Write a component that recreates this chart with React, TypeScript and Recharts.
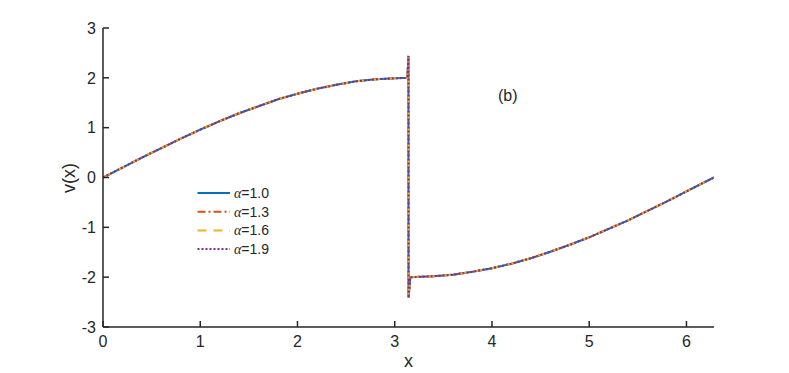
import { LineChart, Line, XAxis, YAxis, Label } from "recharts";

// x grid (the jump sits at x = pi)
const xs = [
  0, 0.2, 0.4, 0.6, 0.8, 1.0, 1.2, 1.4, 1.6, 1.8, 2.0, 2.2, 2.4, 2.6, 2.8, 3.0,
  3.13, 3.141, 3.142, 3.16, 3.4, 3.6, 3.8, 4.0, 4.2, 4.4, 4.6, 4.8, 5.0, 5.2,
  5.4, 5.6, 5.8, 6.0, 6.2, 6.2832,
];

// v(x), one list per alpha
const v10 = [
  0, 0.2, 0.4, 0.59, 0.78, 0.96, 1.13, 1.29, 1.43, 1.57, 1.68, 1.78, 1.86,
  1.93, 1.97, 1.99, 2.0, 2.44, -2.41, -2.0, -1.98, -1.95, -1.89, -1.82, -1.73,
  -1.62, -1.49, -1.35, -1.2, -1.03, -0.86, -0.67, -0.48, -0.28, -0.08, 0,
];
const v13 = [
  0, 0.2, 0.4, 0.59, 0.78, 0.96, 1.13, 1.29, 1.43, 1.57, 1.68, 1.78, 1.86,
  1.93, 1.97, 1.99, 2.0, 2.44, -2.41, -2.0, -1.98, -1.95, -1.89, -1.82, -1.73,
  -1.62, -1.49, -1.35, -1.2, -1.03, -0.86, -0.67, -0.48, -0.28, -0.08, 0,
];
const v16 = [
  0, 0.2, 0.4, 0.59, 0.78, 0.96, 1.13, 1.29, 1.43, 1.57, 1.68, 1.78, 1.86,
  1.93, 1.97, 1.99, 2.0, 2.44, -2.41, -2.0, -1.98, -1.95, -1.89, -1.82, -1.73,
  -1.62, -1.49, -1.35, -1.2, -1.03, -0.86, -0.67, -0.48, -0.28, -0.08, 0,
];
const v19 = [
  0, 0.2, 0.4, 0.59, 0.78, 0.96, 1.13, 1.29, 1.43, 1.57, 1.68, 1.78, 1.86,
  1.93, 1.97, 1.99, 2.0, 2.44, -2.41, -2.0, -1.98, -1.95, -1.89, -1.82, -1.73,
  -1.62, -1.49, -1.35, -1.2, -1.03, -0.86, -0.67, -0.48, -0.28, -0.08, 0,
];

const alphas = ["1.0", "1.3", "1.6", "1.9"];
const xTicks = [0, 1, 2, 3, 4, 5, 6];
const yTicks = [-3, -2, -1, 0, 1, 2, 3];

const FONT = "'Liberation Sans', Arial, Helvetica, sans-serif";
const AXIS = "#262626";

const SERIES = [
  { values: v10, color: "#0072BD", dash: undefined as string | undefined },
  { values: v13, color: "#D95319", dash: "8 3 2 3" },
  { values: v16, color: "#EDB120", dash: "9 7" },
  { values: v19, color: "#7E2F8E", dash: "2 2" },
];

const XTick = (props: any) => {
  const { x, y, payload } = props;
  return (
    <g>
      <line x1={x} y1={y} x2={x} y2={y - 6} stroke={AXIS} strokeWidth={1.5} />
      <text x={x} y={y + 20} textAnchor="middle" fontSize={16} fill={AXIS} fontFamily={FONT}>
        {payload.value}
      </text>
    </g>
  );
};

const YTick = (props: any) => {
  const { x, y, payload } = props;
  return (
    <g>
      <line x1={x} y1={y} x2={x + 6} y2={y} stroke={AXIS} strokeWidth={1.5} />
      <text x={x - 7} y={y} dy="0.36em" textAnchor="end" fontSize={16} fill={AXIS} fontFamily={FONT}>
        {payload.value}
      </text>
    </g>
  );
};

function LegendBox() {
  return (
    <svg
      width={90}
      height={80}
      style={{ position: "absolute", left: 195, top: 183, overflow: "visible" }}
    >
      {SERIES.map((s, i) => {
        const cy = 10 + i * 18.7;
        return (
          <g key={i}>
            <line
              x1={2.5}
              x2={35}
              y1={cy}
              y2={cy}
              stroke={s.color}
              strokeWidth={2}
              strokeDasharray={s.dash}
            />
            <text x={39} y={cy} dy="0.36em" fontSize={14} fill={AXIS} fontFamily={FONT}>
              <tspan fontStyle="italic" fontFamily="'Liberation Serif', serif">
                α
              </tspan>
              ={alphas[i]}
            </text>
          </g>
        );
      })}
    </svg>
  );
}

export default function App() {
  return (
    <div style={{ position: "absolute", left: 0, top: 0, width: 789, height: 373, background: "#fff" }}>
      <LineChart width={789} height={373} margin={{ top: 28, right: 75, bottom: 0, left: 0 }}>
        <XAxis
          dataKey="x"
          type="number"
          domain={[0, 6.2832]}
          ticks={xTicks}
          allowDataOverflow
          height={46}
          tickSize={0}
          tickMargin={0}
          tickLine={false}
          tick={<XTick />}
          axisLine={{ stroke: AXIS, strokeWidth: 1.5 }}
        >
          <Label value="x" position="insideBottom" offset={6} fontSize={18} fill={AXIS} fontFamily={FONT} />
        </XAxis>
        <YAxis
          dataKey="v"
          type="number"
          domain={[-3, 3]}
          ticks={yTicks}
          allowDataOverflow
          width={103}
          tickSize={0}
          tickMargin={0}
          tickLine={false}
          tick={<YTick />}
          axisLine={{ stroke: AXIS, strokeWidth: 1.5 }}
        >
          <Label
            content={() => (
              <text
                x={75}
                y={178}
                transform="rotate(-90 75 178)"
                textAnchor="middle"
                fontSize={18}
                fill={AXIS}
                fontFamily={FONT}
              >
                v(x)
              </text>
            )}
          />
        </YAxis>
        {SERIES.map((s, i) => (
          <Line
            key={i}
            data={xs.map((x, j) => ({ x, v: s.values[j] }))}
            dataKey="v"
            type="linear"
            stroke={s.color}
            strokeWidth={2}
            strokeDasharray={s.dash}
            dot={false}
            activeDot={false}
            isAnimationActive={false}
          />
        ))}
      </LineChart>
      <LegendBox />
      <div
        style={{
          position: "absolute",
          left: 498,
          top: 87,
          fontFamily: FONT,
          fontSize: 16,
          color: AXIS,
        }}
      >
        (b)
      </div>
    </div>
  );
}
